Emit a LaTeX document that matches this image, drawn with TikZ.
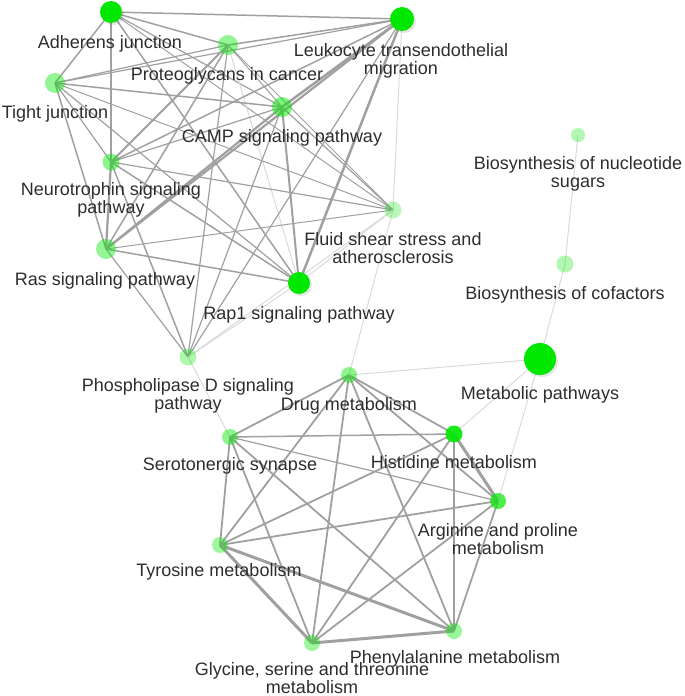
\documentclass[tikz,border=0pt]{standalone}
\usepackage{fontspec}
\setmainfont{Liberation Sans}
\usetikzlibrary{backgrounds}
\definecolor{gbright}{RGB}{0,232,0}
\definecolor{edgegray}{RGB}{160,160,160}
\definecolor{faintgray}{RGB}{218,218,218}
\definecolor{labgray}{RGB}{45,45,45}
\tikzset{
  gnode/.style={circle, inner sep=0pt, minimum size=#1, draw=none, fill=gbright},
  shad/.style={circle, inner sep=0pt, minimum size=#1, fill=black, fill opacity=0.10},
  lab/.style={anchor=north, inner sep=0pt, align=center, text=labgray,
    font=\fontsize{18}{17.5}\selectfont, execute at begin node=\strut},
  ed/.style={draw=edgegray, line width=#1pt},
  ef/.style={draw=faintgray, line width=1pt},
}
\begin{document}
\begin{tikzpicture}[x=1pt,y=-1pt]
\useasboundingbox (0,0) rectangle (685,696);
% ---------- nodes ----------
\foreach \p/\r in {(113,14)/22,(404,21)/24,(301,285)/22,(542,361)/32}
  \node[shad=\r] at \p {};
\node[gnode=22] (AJ) at (111,12) {};
\node[gnode=24] (LTM) at (402,19) {};
\node[gnode=20, fill opacity=0.42] (PC) at (228,45) {};
\node[gnode=20, fill opacity=0.42] (TJ) at (55,83) {};
\node[gnode=20, fill opacity=0.5] (CAMP) at (282,107) {};
\node[gnode=17, fill opacity=0.45] (NSP) at (111,162) {};
\node[gnode=17, fill opacity=0.28] (FSS) at (393,210) {};
\node[gnode=20, fill opacity=0.42] (RAS) at (106,249) {};
\node[gnode=22] (RAP1) at (299,283) {};
\node[gnode=17, fill opacity=0.32] (PLD) at (188,357) {};
\node[gnode=16, fill opacity=0.45] (DM) at (349,375) {};
\node[gnode=32] (MP) at (540,359) {};
\node[gnode=16, fill opacity=0.45] (SS) at (230,437) {};
\node[gnode=17, fill opacity=0.9] (HM) at (454,434) {};
\node[gnode=16, fill opacity=0.7] (AP) at (498,501) {};
\node[gnode=16, fill opacity=0.38] (TY) at (220,545) {};
\node[gnode=16, fill opacity=0.38] (GS) at (312,643) {};
\node[gnode=16, fill opacity=0.4] (PH) at (454,631) {};
\node[gnode=14, fill opacity=0.3] (BNS) at (578,135) {};
\node[gnode=17, fill opacity=0.3] (BC) at (565,264) {};
% ---------- edges ----------
\begin{scope}[on background layer]
\draw[ed=1.5] (AJ.center) -- (LTM.center);
\draw[ed=1.5] (AJ.center) -- (PC.center);
\draw[ed=1.5] (AJ.center) -- (TJ.center);
\draw[ed=1.6] (AJ.center) -- (NSP.center);
\draw[ed=1.2] (AJ.center) -- (CAMP.center);
\draw[ed=1.5] (AJ.center) -- (RAP1.center);
\draw[ed=1.0] (AJ.center) -- (FSS.center);
\draw[ed=1.5] (PC.center) -- (LTM.center);
\draw[ed=1.2] (PC.center) -- (TJ.center);
\draw[ed=2.0] (PC.center) -- (NSP.center);
\draw[ed=1.5] (PC.center) -- (RAS.center);
\draw[ed=1.0] (PC.center) -- (CAMP.center);
\draw[ef] (PC.center) -- (RAP1.center);
\draw[ed=0.9] (PC.center) -- (FSS.center);
\draw[ed=1.2] (PC.center) -- (PLD.center);
\draw[ed=1.2] (TJ.center) -- (LTM.center);
\draw[ed=1.5] (TJ.center) -- (CAMP.center);
\draw[ed=1.2] (TJ.center) -- (NSP.center);
\draw[ed=1.5] (TJ.center) -- (RAS.center);
\draw[ed=1.2] (TJ.center) -- (RAP1.center);
\draw[ed=1.0] (TJ.center) -- (FSS.center);
\draw[ed=2.5] (LTM.center) -- (CAMP.center);
\draw[ed=1.5] (LTM.center) -- (NSP.center);
\draw[ed=2.2] (LTM.center) -- (RAS.center);
\draw[ed=2.5] (LTM.center) -- (RAP1.center);
\draw[ef] (LTM.center) -- (FSS.center);
\draw[ed=1.2] (LTM.center) -- (PLD.center);
\draw[ed=1.2] (CAMP.center) -- (NSP.center);
\draw[ed=2.2] (CAMP.center) -- (RAS.center);
\draw[ed=2.0] (CAMP.center) -- (RAP1.center);
\draw[ed=1.2] (CAMP.center) -- (FSS.center);
\draw[ed=1.2] (CAMP.center) -- (PLD.center);
\draw[ed=2.2] (NSP.center) -- (RAS.center);
\draw[ed=1.5] (NSP.center) -- (RAP1.center);
\draw[ed=1.2] (NSP.center) -- (FSS.center);
\draw[ed=1.5] (NSP.center) -- (PLD.center);
\draw[ed=1.5] (RAS.center) -- (RAP1.center);
\draw[ed=1.0] (RAS.center) -- (FSS.center);
\draw[ed=1.2] (RAS.center) -- (PLD.center);
\draw[ef] (RAP1.center) -- (PLD.center);
\draw[ef] (RAP1.center) -- (FSS.center);
\draw[ef] (PLD.center) -- (FSS.center);
\draw[ef] (FSS.center) -- (DM.center);
\draw[ef] (PLD.center) -- (SS.center);
\draw[ed=1.8] (DM.center) -- (SS.center);
\draw[ed=1.8] (DM.center) -- (HM.center);
\draw[ed=1.8] (DM.center) -- (AP.center);
\draw[ed=1.8] (DM.center) -- (TY.center);
\draw[ed=1.8] (DM.center) -- (GS.center);
\draw[ed=1.8] (DM.center) -- (PH.center);
\draw[ed=1.5] (SS.center) -- (HM.center);
\draw[ed=1.2] (SS.center) -- (AP.center);
\draw[ed=1.8] (SS.center) -- (TY.center);
\draw[ed=1.8] (SS.center) -- (GS.center);
\draw[ed=1.8] (SS.center) -- (PH.center);
\draw[ed=3.0] (HM.center) -- (AP.center);
\draw[ed=1.8] (HM.center) -- (TY.center);
\draw[ed=1.8] (HM.center) -- (GS.center);
\draw[ed=1.8] (HM.center) -- (PH.center);
\draw[ed=1.8] (AP.center) -- (TY.center);
\draw[ed=1.8] (AP.center) -- (GS.center);
\draw[ed=1.8] (AP.center) -- (PH.center);
\draw[ed=3.0] (TY.center) -- (GS.center);
\draw[ed=3.0] (TY.center) -- (PH.center);
\draw[ed=3.0] (GS.center) -- (PH.center);
\draw[ef] (MP.center) -- (DM.center);
\draw[ef] (MP.center) -- (HM.center);
\draw[ef] (MP.center) -- (AP.center);
\draw[ef] (MP.center) -- (BC.center);
\draw[ef] (BC.center) -- (BNS.center);
\end{scope}
% ---------- labels ----------
\node[lab] (AJl) at (110,35.4) {Adherens junction};
\node[lab] (LTMl) at (401,43.4) {Leukocyte transendothelial\\migration};
\node[lab] (PCl) at (227,67.4) {Proteoglycans in cancer};
\node[lab] (TJl) at (55,105.4) {Tight junction};
\node[lab] (CAMPl) at (282,129.4) {CAMP signaling pathway};
\node[lab] (NSPl) at (111,182.4) {Neurotrophin signaling\\pathway};
\node[lab] (FSSl) at (393,232.4) {Fluid shear stress and\\atherosclerosis};
\node[lab] (RASl) at (105,272.4) {Ras signaling pathway};
\node[lab] (RAP1l) at (299,306.4) {Rap1 signaling pathway};
\node[lab] (PLDl) at (188,378.4) {Phospholipase D signaling\\pathway};
\node[lab] (DMl) at (349,397.4) {Drug metabolism};
\node[lab] (MPl) at (540,386.4) {Metabolic pathways};
\node[lab] (SSl) at (230,457.4) {Serotonergic synapse};
\node[lab] (HMl) at (454,455.4) {Histidine metabolism};
\node[lab] (APl) at (498,523.4) {Arginine and proline\\metabolism};
\node[lab] (TYl) at (219,563.4) {Tyrosine metabolism};
\node[lab] (GSl) at (312,662.4) {Glycine, serine and threonine\\metabolism};
\node[lab] (PHl) at (455,650.4) {Phenylalanine metabolism};
\node[lab] (BNSl) at (578,156.4) {Biosynthesis of nucleotide\\sugars};
\node[lab] (BCl) at (565,286.4) {Biosynthesis of cofactors};
\end{tikzpicture}
\end{document}
